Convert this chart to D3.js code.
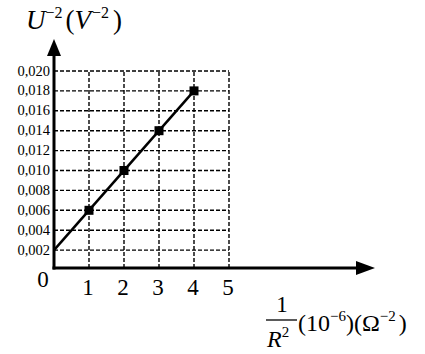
<!DOCTYPE html>
<html>
<head>
<script src="https://cdn.jsdelivr.net/npm/d3@7"></script>
<style>
  body { margin: 0; background: #fff; }
  text { font-family: "Liberation Serif", "DejaVu Serif", serif; fill: #000; }
</style>
</head>
<body>
<div id="chart"></div>
<script>
// data
const xVals = [1, 2, 3, 4];
const yVals = [0.006, 0.010, 0.014, 0.018];
const fitLine = [[0, 0.002], [4, 0.018]];
const xTicks = [1, 2, 3, 4, 5];
const yTicks = [0.002, 0.004, 0.006, 0.008, 0.010, 0.012, 0.014, 0.016, 0.018, 0.020];

const width = 425, height = 354;

const svg = d3.select("#chart").append("svg")
    .attr("width", width)
    .attr("height", height);

const x = d3.scaleLinear().domain([0, 5]).range([54, 229]);
const y = d3.scaleLinear().domain([0, 0.020]).range([270, 71]);
const axisY = 268;

// dashed grid
const grid = svg.append("g")
    .attr("stroke", "#000")
    .attr("stroke-width", 1.4)
    .attr("stroke-dasharray", "4,2");

grid.selectAll(".h").data(yTicks).join("line")
    .attr("x1", x(0)).attr("x2", x(5))
    .attr("y1", d => y(d)).attr("y2", d => y(d));

grid.selectAll(".v").data(xTicks).join("line")
    .attr("x1", d => x(d)).attr("x2", d => x(d))
    .attr("y1", axisY).attr("y2", y(0.020));

// axes with arrows
svg.append("line")
    .attr("x1", x(0)).attr("x2", x(0))
    .attr("y1", axisY + 1.5).attr("y2", 52)
    .attr("stroke", "#000").attr("stroke-width", 3);
svg.append("path")
    .attr("d", `M${x(0)},39 L${x(0) - 7},56 L${x(0) + 7},56 Z`)
    .attr("fill", "#000");

svg.append("line")
    .attr("x1", x(0) - 1.5).attr("x2", 360)
    .attr("y1", axisY).attr("y2", axisY)
    .attr("stroke", "#000").attr("stroke-width", 3);
svg.append("path")
    .attr("d", `M375,${axisY} L356,${axisY - 7} L356,${axisY + 7} Z`)
    .attr("fill", "#000");

// y tick labels
svg.selectAll(".ylab").data(yTicks).join("text")
    .attr("x", 50)
    .attr("y", d => y(d) + 4.5)
    .attr("text-anchor", "end")
    .attr("font-size", 14.5)
    .text(d => d3.format(".3f")(d).replace(".", ","));

// x tick labels
svg.selectAll(".xlab").data(xTicks).join("text")
    .attr("x", d => x(d) - 1)
    .attr("y", 295)
    .attr("text-anchor", "middle")
    .attr("font-size", 23)
    .text(d => d);

svg.append("text")
    .attr("x", 43).attr("y", 287)
    .attr("text-anchor", "middle")
    .attr("font-size", 23)
    .text("0");

// fitted line and points
const line = d3.line().x(d => x(d[0])).y(d => y(d[1]));
svg.append("path")
    .datum(fitLine)
    .attr("d", line)
    .attr("fill", "none")
    .attr("stroke", "#000")
    .attr("stroke-width", 2.5);

svg.selectAll(".pt").data(xVals).join("rect")
    .attr("x", (d, i) => x(d) - 4.5)
    .attr("y", (d, i) => y(yVals[i]) - 4.5)
    .attr("width", 9).attr("height", 9)
    .attr("fill", "#000");

// y axis title: U^-2 (V^-2)
const yt = svg.append("text")
    .attr("x", 26).attr("y", 29)
    .attr("font-size", 27);
yt.append("tspan").attr("font-style", "italic").text("U");
yt.append("tspan").attr("font-size", 16).attr("dy", -11).text("\u22122");
yt.append("tspan").attr("dy", 11).attr("dx", 3).text("(");
yt.append("tspan").attr("font-style", "italic").text("V");
yt.append("tspan").attr("font-size", 16).attr("dy", -11).attr("dx", 1).text("\u22122");
yt.append("tspan").attr("dy", 11).attr("dx", 4).text(")");

// x axis title: 1/R^2 (10^-6)(Ω^-2)
svg.append("text")
    .attr("x", 282).attr("y", 312)
    .attr("text-anchor", "middle")
    .attr("font-size", 23)
    .text("1");
svg.append("line")
    .attr("x1", 266).attr("x2", 297)
    .attr("y1", 320).attr("y2", 320)
    .attr("stroke", "#000").attr("stroke-width", 1.3);
const rt = svg.append("text")
    .attr("x", 267).attr("y", 347)
    .attr("font-size", 24);
rt.append("tspan").attr("font-style", "italic").text("R");
rt.append("tspan").attr("font-size", 15).attr("dy", -10).text("2");

const ut = svg.append("text")
    .attr("x", 298).attr("y", 331)
    .attr("font-size", 24);
ut.append("tspan").text("(10");
ut.append("tspan").attr("font-size", 15).attr("dy", -10).text("\u22126");
ut.append("tspan").attr("dy", 10).text(")(\u03A9");
ut.append("tspan").attr("font-size", 15).attr("dy", -10).text("\u22122");
ut.append("tspan").attr("dy", 10).attr("dx", 3).text(")");
</script>
</body>
</html>
